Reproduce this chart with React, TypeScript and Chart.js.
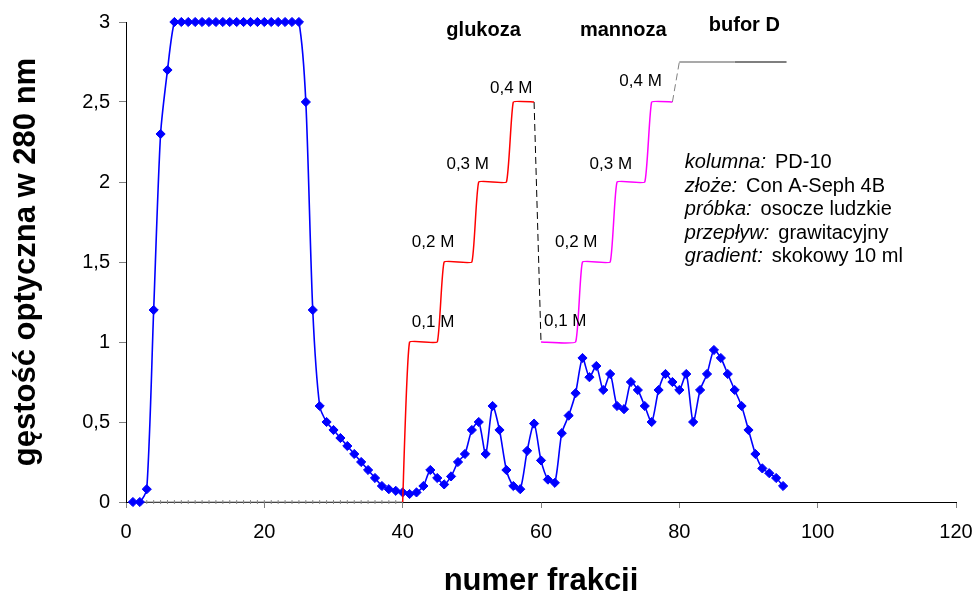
import React, { useEffect, useRef } from 'react';
import { Chart, registerables } from 'chart.js';

Chart.register(...registerables);

// ---------- data ----------
const fractions = [
  1, 2, 3, 4, 5, 6, 7, 8, 9, 10, 11, 12, 13, 14, 15, 16, 17, 18, 19, 20,
  21, 22, 23, 24, 25, 26, 27, 28, 29, 30, 31, 32, 33, 34, 35, 36, 37, 38, 39, 40,
  41, 42, 43, 44, 45, 46, 47, 48, 49, 50, 51, 52, 53, 54, 55, 56, 57, 58, 59, 60,
  61, 62, 63, 64, 65, 66, 67, 68, 69, 70, 71, 72, 73, 74, 75, 76, 77, 78, 79, 80,
  81, 82, 83, 84, 85, 86, 87, 88, 89, 90, 91, 92, 93, 94, 95,
];
const absorbance = [
  0, 0, 0.08, 1.2, 2.3, 2.7, 3, 3, 3, 3, 3, 3, 3, 3, 3, 3, 3, 3, 3, 3,
  3, 3, 3, 3, 3, 2.5, 1.2, 0.6, 0.5, 0.45, 0.4, 0.35, 0.3, 0.25, 0.2, 0.15, 0.1, 0.08, 0.07, 0.06,
  0.05, 0.06, 0.1, 0.2, 0.15, 0.11, 0.16, 0.25, 0.3, 0.45, 0.5, 0.3, 0.6, 0.45, 0.2, 0.1, 0.08, 0.32, 0.49, 0.26,
  0.14, 0.12, 0.43, 0.54, 0.68, 0.9, 0.78, 0.85, 0.7, 0.8, 0.6, 0.58, 0.75, 0.7, 0.6, 0.5, 0.7, 0.8, 0.75, 0.7,
  0.8, 0.5, 0.7, 0.8, 0.95, 0.9, 0.8, 0.7, 0.6, 0.45, 0.3, 0.21, 0.18, 0.15, 0.1,
];

const baselineX = [
  1, 2, 3, 4, 5, 6, 7, 8, 9, 10, 11, 12, 13, 14, 15, 16, 17, 18, 19, 20,
  21, 22, 23, 24, 25, 26, 27, 28, 29, 30, 31, 32, 33, 34, 35, 36, 37, 38, 39, 40,
];
const baselineY = [
  0, 0, 0, 0, 0, 0, 0, 0, 0, 0, 0, 0, 0, 0, 0, 0, 0, 0, 0, 0,
  0, 0, 0, 0, 0, 0, 0, 0, 0, 0, 0, 0, 0, 0, 0, 0, 0, 0, 0, 0,
];

const glucoseX = [40, 41, 45, 46, 50, 51, 55, 56, 59];
const glucoseY = [0, 1, 1, 1.5, 1.5, 2, 2, 2.5, 2.5];

const switchX = [59, 60];
const switchY = [2.5, 1];

const mannoseX = [60, 65, 66, 70, 71, 75, 76, 79];
const mannoseY = [1, 1, 1.5, 1.5, 2, 2, 2.5, 2.5];

const bufferRiseX = [79, 80];
const bufferRiseY = [2.5, 2.75];

const bufferLightX = [80, 88];
const bufferLightY = [2.75, 2.75];
const bufferDarkX = [88, 95.5];
const bufferDarkY = [2.75, 2.75];

const xTickValues = [0, 20, 40, 60, 80, 100, 120];
const yTickLabels = ['0', '0,5', '1', '1,5', '2', '2,5', '3'];

const stepLabels = ['0,1 M', '0,2 M', '0,3 M', '0,4 M'];
const glucoseLabelX = [44.4, 44.4, 49.4, 55.7];
const glucoseLabelY = [1.12, 1.62, 2.11, 2.585];
const mannoseLabelX = [63.5, 65.1, 70.1, 74.4];
const mannoseLabelY = [1.127, 1.62, 2.11, 2.63];

const headerLabels = ['glukoza', 'mannoza', 'bufor D'];
const headerX = [51.7, 71.9, 89.4];
const headerY = [2.95, 2.95, 2.98];

const infoKeys = ['kolumna:', 'złoże:', 'próbka:', 'przepływ:', 'gradient:'];
const infoValues = ['PD-10', 'Con A-Seph 4B', 'osocze ludzkie', 'grawitacyjny', 'skokowy 10 ml'];
const infoX = 80.8;
const infoY = 2.12;

const xTitle = 'numer frakcji';
const yTitle = 'gęstość optyczna w 280 nm';

const FONT = '"Liberation Sans", Arial, Helvetica, sans-serif';

const zip = (xs: number[], ys: number[]) => xs.map((x, i) => ({ x, y: ys[i] }));

const textPlugin = {
  id: 'chartTexts',
  afterDraw(chart: any) {
    const { ctx, chartArea } = chart;
    const xs = chart.scales.x;
    const ys = chart.scales.y;
    ctx.save();
    ctx.fillStyle = '#000';

    // step labels
    ctx.font = `17px ${FONT}`;
    ctx.textAlign = 'center';
    ctx.textBaseline = 'middle';
    stepLabels.forEach((t, i) => {
      ctx.fillText(t, xs.getPixelForValue(glucoseLabelX[i]), ys.getPixelForValue(glucoseLabelY[i]));
      ctx.fillText(t, xs.getPixelForValue(mannoseLabelX[i]), ys.getPixelForValue(mannoseLabelY[i]));
    });

    // headers
    ctx.font = `bold 20px ${FONT}`;
    headerLabels.forEach((t, i) => {
      ctx.fillText(t, xs.getPixelForValue(headerX[i]), ys.getPixelForValue(headerY[i]));
    });

    // info block
    ctx.textAlign = 'left';
    const ix = xs.getPixelForValue(infoX);
    const iy = ys.getPixelForValue(infoY);
    infoKeys.forEach((k, i) => {
      const y = iy + i * 23.5;
      ctx.font = `italic 20px ${FONT}`;
      ctx.fillText(k, ix, y);
      const w = ctx.measureText(k).width + 9;
      ctx.font = `20px ${FONT}`;
      ctx.fillText(infoValues[i], ix + w, y);
    });

    // axis titles
    ctx.font = `bold 31px ${FONT}`;
    ctx.textAlign = 'center';
    ctx.textBaseline = 'alphabetic';
    ctx.fillText(xTitle, (chartArea.left + chartArea.right) / 2, 590);

    ctx.save();
    ctx.translate(35, (chartArea.top + chartArea.bottom) / 2);
    ctx.rotate(-Math.PI / 2);
    ctx.fillText(yTitle, 0, 0);
    ctx.restore();

    ctx.restore();
  },
};

export default function App() {
  const ref = useRef<HTMLCanvasElement | null>(null);

  useEffect(() => {
    if (!ref.current) return;
    const chart = new Chart(ref.current, {
      type: 'line',
      data: {
        datasets: [
          {
            label: 'baseline',
            data: zip(baselineX, baselineY),
            borderColor: '#8a8a8a',
            borderWidth: 1,
            pointStyle: 'line',
            rotation: 90,
            pointRadius: 2,
            pointBorderColor: '#8a8a8a',
            pointBorderWidth: 1,
            clip: false,
            order: 5,
          },
          {
            label: 'absorbance',
            data: zip(fractions, absorbance),
            borderColor: '#0000ff',
            backgroundColor: '#0000ff',
            borderWidth: 1.6,
            pointStyle: 'rectRot',
            pointRadius: 4.6,
            pointBorderColor: '#0000ff',
            pointBackgroundColor: '#0000ff',
            pointBorderWidth: 1,
            tension: 0.25,
            clip: false,
            order: 4,
          },
          {
            label: 'glukoza',
            data: zip(glucoseX, glucoseY),
            borderColor: '#ff0000',
            borderWidth: 1.5,
            pointRadius: 0,
            tension: 0.1,
            order: 1,
          },
          {
            label: 'switch',
            data: zip(switchX, switchY),
            borderColor: '#000000',
            borderWidth: 1,
            borderDash: [7, 4],
            pointRadius: 0,
            order: 1,
          },
          {
            label: 'mannoza',
            data: zip(mannoseX, mannoseY),
            borderColor: '#ff00ff',
            borderWidth: 1.5,
            pointRadius: 0,
            tension: 0.1,
            order: 1,
          },
          {
            label: 'bufor rise',
            data: zip(bufferRiseX, bufferRiseY),
            borderColor: '#808080',
            borderWidth: 1,
            borderDash: [7, 4],
            pointRadius: 0,
            order: 1,
          },
          {
            label: 'bufor light',
            data: zip(bufferLightX, bufferLightY),
            borderColor: '#8c8c8c',
            borderWidth: 1.5,
            pointRadius: 0,
            order: 1,
          },
          {
            label: 'bufor dark',
            data: zip(bufferDarkX, bufferDarkY),
            borderColor: '#555555',
            borderWidth: 1.5,
            pointRadius: 0,
            order: 1,
          },
        ],
      },
      options: {
        responsive: false,
        animation: false,
        layout: { padding: { top: 22, right: 19, left: 0, bottom: 0 } },
        plugins: {
          legend: { display: false },
          tooltip: { enabled: false },
          title: { display: false },
        },
        scales: {
          x: {
            type: 'linear',
            min: 0,
            max: 120,
            afterBuildTicks: (s: any) => {
              s.ticks = xTickValues.map((v) => ({ value: v }));
            },
            ticks: {
              color: '#000',
              font: { size: 20, family: FONT },
              padding: 12,
              maxRotation: 0,
              autoSkip: false,
            },
            grid: {
              drawOnChartArea: false,
              drawTicks: true,
              tickLength: 6,
              color: '#808080',
            },
            border: { display: true, color: '#000', width: 1 },
            afterFit: (s: any) => {
              s.height = 89;
              s.paddingLeft = 0;
              s.paddingRight = 0;
            },
          },
          y: {
            type: 'linear',
            min: 0,
            max: 3,
            ticks: {
              stepSize: 0.5,
              color: '#000',
              font: { size: 20, family: FONT },
              padding: 9,
              callback: (_v: any, i: number) => yTickLabels[i],
            },
            grid: {
              drawOnChartArea: false,
              drawTicks: true,
              tickLength: 7,
              color: '#808080',
            },
            border: { display: true, color: '#000', width: 1 },
            afterFit: (s: any) => {
              s.width = 126;
              s.paddingTop = 0;
              s.paddingBottom = 0;
            },
          },
        },
      },
      plugins: [textPlugin],
    });
    return () => chart.destroy();
  }, []);

  return (
    <div style={{ position: 'absolute', left: 0, top: 0, width: 975, height: 591, background: '#fff' }}>
      <canvas ref={ref} width={975} height={591} style={{ width: 975, height: 591, display: 'block' }} />
    </div>
  );
}
